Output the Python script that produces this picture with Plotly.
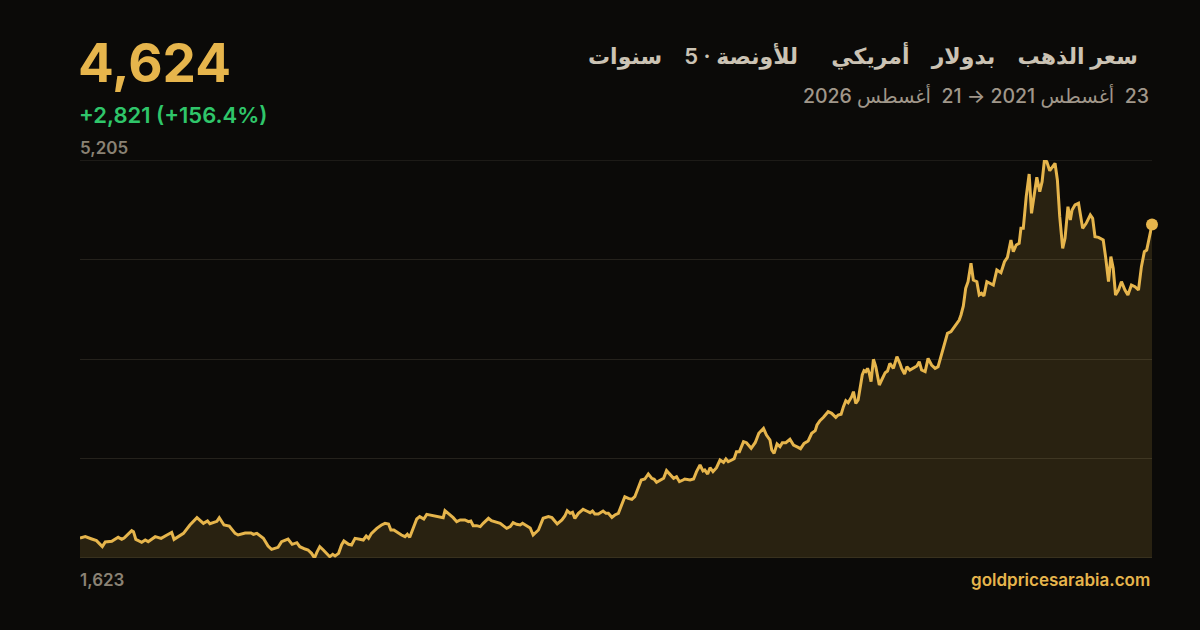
import pandas as pd
import plotly.graph_objects as go

# ---------------- data ----------------
start_date = "2021-08-23"
end_date = "2026-08-21"

days_from_start = [0,9,20,28,38,43,54,65,71,75,88,91,95,105,111,116,128,138,148,156,160,170,176,187,199,210,217,221,233,237,245,254,264,269,281,291,295,301,312,320,326,337,343,354,361,369,374,383,388,394,399,403,408,414,420,425,430,434,440,445,449,457,462,468,476,482,487,491,496,505,513,519,525,529,534,540,547,553,557,561,567,573,578,585,590,596,607,618,621,627,635,641,647,655,661,665,669,675,681,686,695,700,709,715,720,726,732,737,743,749,753,757,763,766,771,780,788,797,803,812,820,825,829,834,838,842,848,856,862,868,872,876,882,890,895,899,905,910,916,922,927,933,939,944,950,955,961,967,973,977,981,987,993,998,1004,1010,1015,1020,1026,1029,1038,1044,1049,1055,1060,1063,1068,1072,1077,1083,1089,1095,1099,1103,1109,1113,1117,1122,1129,1134,1142,1149,1155,1163,1168,1174,1177,1181,1186,1191,1195,1201,1208,1214,1222,1226,1232,1239,1245,1251,1254,1259,1265,1273,1279,1286,1290,1295,1299,1303,1307,1313,1316,1320,1324,1331,1334,1337,1340,1343,1346,1350,1354,1360,1364,1370,1374,1378,1384,1390,1395,1398,1403,1407,1412,1418,1424,1428,1432,1438,1443,1449,1455,1460,1466,1472,1476,1482,1488,1492,1496,1499,1503,1507,1511,1516,1520,1526,1530,1534,1538,1543,1548,1554,1560,1567,1573,1578,1584,1588,1593,1598,1601,1605,1610,1615,1619,1624,1628,1633,1637,1641,1645,1650,1659,1663,1667,1672,1676,1681,1685,1688,1693,1699,1706,1712,1719,1723,1727,1733,1741,1745,1750,1754,1758,1762,1767,1772,1778,1783,1789,1795,1801,1806,1811,1815,1824]

prices_usd_oz = [1803,1815,1794,1779,1725,1767,1773,1809,1791,1803,1869,1860,1791,1764,1785,1770,1815,1800,1830,1854,1791,1824,1845,1920,1986,1935,1956,1932,1953,1986,1920,1911,1845,1830,1848,1848,1836,1845,1800,1731,1701,1719,1770,1794,1746,1761,1725,1704,1695,1665,1623,1674,1725,1695,1665,1635,1656,1641,1665,1740,1776,1746,1740,1800,1791,1785,1821,1800,1845,1890,1920,1935,1929,1875,1875,1851,1830,1815,1836,1809,1890,1974,1995,1974,2016,2010,1998,1986,2049,2025,1986,1950,1965,1965,1950,1956,1914,1914,1905,1935,1980,1959,1944,1935,1914,1890,1905,1941,1926,1920,1935,1920,1905,1893,1830,1875,1980,1995,1986,1929,1965,2001,2049,2025,2034,1980,2025,2061,2046,2031,2046,2019,2019,2046,2025,2025,1989,2010,2025,2100,2175,2160,2151,2175,2250,2325,2334,2379,2340,2331,2304,2325,2340,2409,2379,2340,2355,2310,2325,2334,2325,2334,2400,2460,2406,2415,2379,2436,2400,2436,2505,2484,2514,2490,2505,2517,2580,2580,2670,2661,2610,2663,2745,2790,2730,2685,2595,2565,2649,2625,2661,2661,2691,2640,2619,2607,2655,2676,2745,2769,2820,2859,2889,2940,2925,2889,2910,2916,2985,3039,3021,3075,3120,3015,3045,3270,3309,3300,3330,3285,3210,3411,3345,3180,3225,3291,3306,3375,3330,3435,3375,3330,3279,3345,3315,3330,3351,3390,3315,3300,3420,3360,3330,3345,3450,3570,3645,3660,3705,3744,3765,3810,3891,4050,4110,4275,4125,4110,3990,4005,3981,4110,4095,4080,4215,4191,4290,4329,4485,4380,4440,4455,4590,4590,4875,5079,4725,4920,5049,4920,5010,5205,5190,5109,5175,5025,4695,4410,4500,4785,4665,4755,4800,4815,4590,4635,4710,4680,4515,4509,4485,4335,4110,4335,4230,3990,4035,4110,4035,3990,4080,4065,4035,4245,4380,4395,4624]

assert len(days_from_start) == len(prices_usd_oz)

y_min_label = 1623
y_max_label = 5205
n_gridlines = 5

title_parts = ["سعر الذهب", "بدولار", "أمريكي", "للأونصة · 5", "سنوات"]
subtitle_parts = ["23", "أغسطس 2021 →", "21", "أغسطس 2026"]
last_value_text = "4,624"
change_text = "+2,821 (+156.4%)"
site_text = "goldpricesarabia.com"

# ---------------- styling ----------------
BG = "#0b0a08"
GOLD = "#e6b54c"
GREEN = "#2fc66a"
GREY = "#8a8274"
TITLE_C = "#cbc3b4"
SUB_C = "#a0978a"
GRID = "#25221c"
FONT = "Inter, 'Noto Sans', 'DejaVu Sans', sans-serif"

dates = pd.Timestamp(start_date) + pd.to_timedelta(days_from_start, unit="D")

step = (y_max_label - y_min_label) / (n_gridlines - 1)
grid_vals = [y_min_label + i * step for i in range(n_gridlines)]

fig = go.Figure()
fig.add_trace(go.Scatter(
    x=dates, y=prices_usd_oz, mode="lines",
    line=dict(color=GOLD, width=3, shape="linear"),
    fill="tozeroy", fillcolor="rgba(230,181,76,0.14)",
    hoverinfo="skip", showlegend=False,
))
fig.add_trace(go.Scatter(
    x=[dates[-1]], y=[prices_usd_oz[-1]], mode="markers",
    marker=dict(color=GOLD, size=12), cliponaxis=False,
    hoverinfo="skip", showlegend=False,
))

L, R, T, B = 80, 48, 160, 72
fig.update_layout(
    width=1200, height=630,
    margin=dict(l=L, r=R, t=T, b=B),
    paper_bgcolor=BG, plot_bgcolor=BG,
    font=dict(family=FONT, color=GREY),
    xaxis=dict(range=[pd.Timestamp(start_date), pd.Timestamp(end_date)],
               showgrid=False, zeroline=False, showticklabels=False,
               showline=False, fixedrange=True),
    yaxis=dict(range=[y_min_label, y_max_label], tickvals=grid_vals,
               showgrid=True, gridcolor=GRID, gridwidth=1,
               zeroline=False, showticklabels=False, showline=False,
               fixedrange=True),
)

# edge grid lines (top and baseline) which plotly omits at the range limits
for gv in (grid_vals[0], grid_vals[-1]):
    fig.add_shape(type="line", xref="paper", x0=0, x1=1, yref="y", y0=gv, y1=gv,
                  line=dict(color=GRID, width=1.5), layer="below")

PW = 1200 - L - R
PH = 630 - T - B


def px(X):
    return (X - L) / PW


def py(Y):
    return (630 - B - Y) / PH


ann = []
ann.append(dict(text=last_value_text, x=px(76), y=py(63), xanchor="left", yanchor="middle",
                font=dict(size=53, color=GOLD, family=FONT, weight=700)))
ann.append(dict(text=change_text, x=px(77), y=py(115), xanchor="left", yanchor="middle",
                font=dict(size=22, color=GREEN, family=FONT, weight=600)))
ann.append(dict(text=f"{y_max_label:,}", x=px(78), y=py(148), xanchor="left", yanchor="middle",
                font=dict(size=17, color=GREY, family=FONT, weight=600)))
ann.append(dict(text=f"{y_min_label:,}", x=px(78), y=py(580), xanchor="left", yanchor="middle",
                font=dict(size=17, color=GREY, family=FONT, weight=600)))
ann.append(dict(text=site_text, x=px(1152), y=py(580), xanchor="right", yanchor="middle",
                font=dict(size=17, color=GOLD, family=FONT, weight=600)))

gap = "\u00a0" * 4
title = "\u202b" + title_parts[0] + gap + title_parts[1] + gap + title_parts[2] + "\u00a0" * 6 \
    + title_parts[3] + gap + title_parts[4] + "\u202c"
ann.append(dict(text=title, x=px(1140), y=py(56), xanchor="right", yanchor="middle",
                font=dict(size=22, color=TITLE_C, family=FONT, weight=600)))
sub = "\u202b" + subtitle_parts[0] + "\u00a0\u00a0" + subtitle_parts[1] + " " + subtitle_parts[2] \
    + "\u00a0\u00a0" + subtitle_parts[3] + "\u202c"
ann.append(dict(text=sub, x=px(1151), y=py(96),
                xanchor="right", yanchor="middle",
                font=dict(size=19.5, color=SUB_C, family=FONT, weight=500)))

for a in ann:
    a.update(xref="paper", yref="paper", showarrow=False)
fig.update_layout(annotations=ann)

fig.write_html("out.html",
               config={"displayModeBar": False, "staticPlot": True},
               post_script="document.body.style.margin='0';document.body.style.overflow='hidden';"
                           "document.body.style.background='" + BG + "';")
